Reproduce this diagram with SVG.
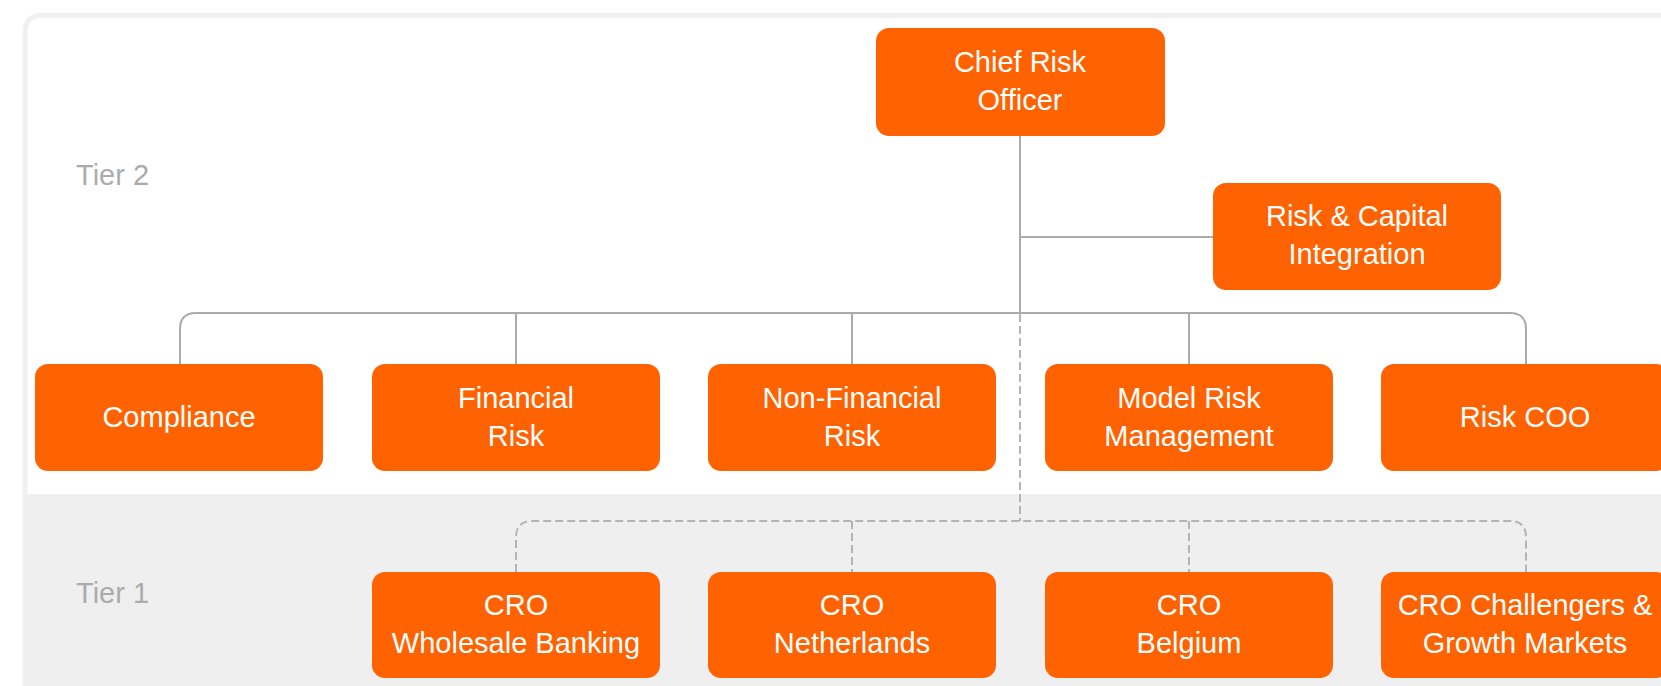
<svg xmlns="http://www.w3.org/2000/svg" width="1661" height="686" viewBox="0 0 1661 686">
<style>
.box{fill:#ff6200}
.t{font-family:"Liberation Sans",Arial,sans-serif;font-size:29px;fill:#ffffff;text-anchor:middle}
.tier{font-family:"Liberation Sans",Arial,sans-serif;font-size:29px;fill:#ababab}
.solid{fill:none;stroke:#ababab;stroke-width:2}
.dash{fill:none;stroke:#b4b4b4;stroke-width:2;stroke-dasharray:8 4}
</style>
<rect x="0" y="0" width="1661" height="686" fill="#ffffff"/>
<rect x="26" y="494" width="1640" height="200" fill="#efefef"/>
<path d="M25 700 V32 Q25 15.5 42 15.5 H1670" fill="none" stroke="#f0f0f0" stroke-width="5"/>
<text class="tier" x="76" y="185">Tier 2</text>
<text class="tier" x="76" y="603">Tier 1</text>
<g id="connectors">
<path class="solid" d="M1020 136 V313"/>
<path class="solid" d="M1020 237 H1213"/>
<path class="solid" d="M180 364 V329 Q180 313 196 313 H1510 Q1526 313 1526 329 V364"/>
<path class="solid" d="M516 313 V364 M852 313 V364 M1189 313 V364"/>
<path class="dash" d="M1020 314 V521"/>
<path class="dash" d="M516 572 V537 Q516 521 532 521 H1510 Q1526 521 1526 537 V572"/>
<path class="dash" d="M852 521 V572 M1189 521 V572"/>
</g>
<g id="cro"><rect class="box" x="876" y="28" width="289" height="108" rx="13"/><text class="t" x="1020" y="72">Chief Risk</text><text class="t" x="1020" y="110">Officer</text></g>
<g id="rci"><rect class="box" x="1213" y="183" width="288" height="107" rx="13"/><text class="t" x="1357" y="226">Risk &amp; Capital</text><text class="t" x="1357" y="264">Integration</text></g>
<g id="compliance"><rect class="box" x="35" y="364" width="288" height="107" rx="13"/><text class="t" x="179" y="427">Compliance</text></g>
<g id="financial"><rect class="box" x="372" y="364" width="288" height="107" rx="13"/><text class="t" x="516" y="408">Financial</text><text class="t" x="516" y="446">Risk</text></g>
<g id="nonfinancial"><rect class="box" x="708" y="364" width="288" height="107" rx="13"/><text class="t" x="852" y="408">Non-Financial</text><text class="t" x="852" y="446">Risk</text></g>
<g id="modelrisk"><rect class="box" x="1045" y="364" width="288" height="107" rx="13"/><text class="t" x="1189" y="408">Model Risk</text><text class="t" x="1189" y="446">Management</text></g>
<g id="riskcoo"><rect class="box" x="1381" y="364" width="288" height="107" rx="13"/><text class="t" x="1525" y="427">Risk COO</text></g>
<g id="crowb"><rect class="box" x="372" y="572" width="288" height="106" rx="13"/><text class="t" x="516" y="615">CRO</text><text class="t" x="516" y="653">Wholesale Banking</text></g>
<g id="cronl"><rect class="box" x="708" y="572" width="288" height="106" rx="13"/><text class="t" x="852" y="615">CRO</text><text class="t" x="852" y="653">Netherlands</text></g>
<g id="crobe"><rect class="box" x="1045" y="572" width="288" height="106" rx="13"/><text class="t" x="1189" y="615">CRO</text><text class="t" x="1189" y="653">Belgium</text></g>
<g id="crocgm"><rect class="box" x="1381" y="572" width="288" height="106" rx="13"/><text class="t" x="1525" y="615">CRO Challengers &amp;</text><text class="t" x="1525" y="653">Growth Markets</text></g>
</svg>
